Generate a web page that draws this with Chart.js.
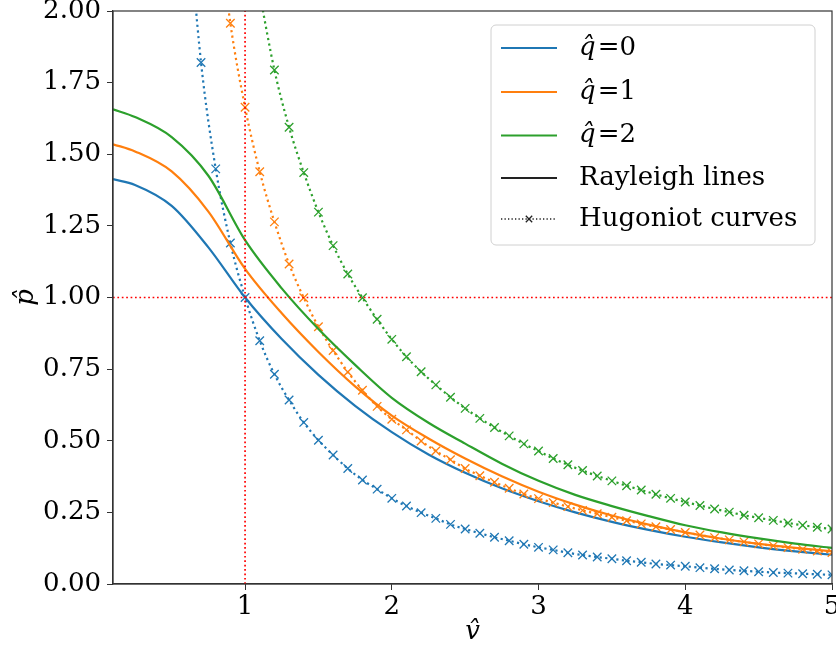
<!DOCTYPE html>
<html>
<head>
<meta charset="utf-8">
<script src="https://cdn.jsdelivr.net/npm/chart.js@4.4.1/dist/chart.umd.min.js"></script>
<style>
  html, body { margin: 0; padding: 0; background: #fff; }
  #wrap { width: 836px; height: 654px; }
</style>
</head>
<body>
<div id="wrap"><canvas id="chart" width="836" height="654"></canvas></div>
<script>
// heat release values and their colours
const qValues = [0, 1, 2];
const qColors = ['#1f77b4', '#ff7f0e', '#2ca02c'];

// Rayleigh lines, sampled along v
const rayleighV = [0.1, 0.25, 0.5, 0.75, 1.0, 1.25, 1.5, 1.75, 2.0, 2.25, 2.5,
  2.75, 3.0, 3.25, 3.5, 3.75, 4.0, 4.25, 4.5, 4.75, 5.0];
const rayleighQ0 = [1.413, 1.393, 1.32, 1.175, 1.0, 0.855, 0.73, 0.622, 0.53, 0.452, 0.388,
  0.334, 0.289, 0.25, 0.217, 0.189, 0.165, 0.145, 0.128, 0.114, 0.102];
const rayleighQ1 = [1.535, 1.51, 1.44, 1.3, 1.1, 0.945, 0.81, 0.69, 0.588, 0.508, 0.438,
  0.376, 0.322, 0.277, 0.239, 0.207, 0.18, 0.158, 0.14, 0.126, 0.114];
const rayleighQ2 = [1.657, 1.63, 1.56, 1.425, 1.2, 1.032, 0.89, 0.765, 0.65, 0.563, 0.49,
  0.42, 0.36, 0.311, 0.272, 0.237, 0.205, 0.18, 0.159, 0.141, 0.126];

// Hugoniot curves, one marker every 0.1 in v (null = not computed there)
const hugoniotV = [0.6, 0.7, 0.8, 0.9, 1.0, 1.1, 1.2, 1.3, 1.4, 1.5, 1.6, 1.7, 1.8, 1.9, 2.0,
  2.1, 2.2, 2.3, 2.4, 2.5, 2.6, 2.7, 2.8, 2.9, 3.0, 3.1, 3.2, 3.3, 3.4, 3.5,
  3.6, 3.7, 3.8, 3.9, 4.0, 4.1, 4.2, 4.3, 4.4, 4.5, 4.6, 4.7, 4.8, 4.9, 5.0];
const hugoniotQ0 = [2.4, 1.82, 1.449, 1.19, 1.0, 0.849, 0.732, 0.642, 0.564, 0.502, 0.45, 0.403, 0.363, 0.331, 0.299,
  0.272, 0.249, 0.229, 0.208, 0.192, 0.177, 0.163, 0.151, 0.139, 0.128, 0.119, 0.109, 0.101, 0.094, 0.088,
  0.081, 0.076, 0.07, 0.066, 0.062, 0.057, 0.053, 0.049, 0.046, 0.043, 0.04, 0.038, 0.036, 0.034, 0.032];
const hugoniotQ1 = [null, null, 2.38, 1.957, 1.664, 1.439, 1.264, 1.117, 0.999, 0.898, 0.815, 0.74, 0.676, 0.62, 0.575,
  0.538, 0.499, 0.464, 0.434, 0.403, 0.378, 0.355, 0.334, 0.314, 0.298, 0.284, 0.27, 0.257, 0.245, 0.233,
  0.221, 0.21, 0.2, 0.19, 0.18, 0.171, 0.162, 0.154, 0.147, 0.14, 0.133, 0.127, 0.121, 0.115, 0.11];
const hugoniotQ2 = [null, null, null, null, null, 2.06, 1.794, 1.594, 1.436, 1.298, 1.181, 1.082, 0.999, 0.924, 0.854,
  0.793, 0.741, 0.695, 0.652, 0.613, 0.578, 0.546, 0.517, 0.489, 0.464, 0.438, 0.416, 0.396, 0.377, 0.36,
  0.343, 0.328, 0.313, 0.299, 0.286, 0.274, 0.262, 0.251, 0.24, 0.231, 0.222, 0.213, 0.205, 0.198, 0.192];

// reference state guides
const refV = 1.0;
const refP = 1.0;

const xTicks = [1, 2, 3, 4, 5];
const legendLabels = ['Rayleigh lines', 'Hugoniot curves'];

const SERIF = "'DejaVu Serif', 'Liberation Serif', serif";

function pairs(xs, ys) {
  return xs.map((x, i) => ({x: x, y: ys[i]}));
}

function rayleighSet(vals, color) {
  return {
    data: pairs(rayleighV, vals),
    borderColor: color,
    borderWidth: 2.2,
    pointRadius: 0,
    cubicInterpolationMode: 'monotone',
    fill: false
  };
}

function hugoniotSet(vals, color) {
  return {
    data: pairs(hugoniotV, vals),
    borderColor: color,
    backgroundColor: color,
    borderWidth: 2.2,
    borderDash: [2.2, 3.4],
    pointStyle: 'crossRot',
    pointRadius: 6,
    pointBorderWidth: 1.3,
    pointBorderColor: color,
    cubicInterpolationMode: 'monotone',
    fill: false
  };
}

function guideSet(points) {
  return {
    data: points,
    borderColor: '#ff0000',
    borderWidth: 1.7,
    borderDash: [1.7, 2.7],
    pointRadius: 0,
    fill: false
  };
}

function noPadding(scale) {
  scale.paddingTop = 0;
  scale.paddingBottom = 0;
  scale.paddingLeft = 0;
  scale.paddingRight = 0;
}

// frame on all four sides and the legend box
const frameAndLegend = {
  id: 'frameAndLegend',
  afterDraw(chart) {
    const ctx = chart.ctx;
    const a = chart.chartArea;
    ctx.save();
    ctx.strokeStyle = '#333';
    ctx.lineWidth = 1.2;
    ctx.strokeRect(a.left, a.top, a.right - a.left, a.bottom - a.top);

    // legend box
    const bx = 491, by = 25, bw = 324, bh = 220, r = 5;
    ctx.beginPath();
    ctx.moveTo(bx + r, by);
    ctx.arcTo(bx + bw, by, bx + bw, by + bh, r);
    ctx.arcTo(bx + bw, by + bh, bx, by + bh, r);
    ctx.arcTo(bx, by + bh, bx, by, r);
    ctx.arcTo(bx, by, bx + bw, by, r);
    ctx.closePath();
    ctx.fillStyle = 'rgba(255,255,255,0.8)';
    ctx.fill();
    ctx.strokeStyle = '#d0d0d0';
    ctx.lineWidth = 1;
    ctx.stroke();

    const rows = [48, 92, 135.5, 178, 219];
    const x0 = 501, x1 = 557, tx = 579;
    ctx.textBaseline = 'middle';
    ctx.fillStyle = '#000';

    qValues.forEach((q, i) => {
      ctx.strokeStyle = qColors[i];
      ctx.lineWidth = 2.2;
      ctx.setLineDash([]);
      ctx.beginPath();
      ctx.moveTo(x0, rows[i]);
      ctx.lineTo(x1, rows[i]);
      ctx.stroke();
      ctx.font = 'italic 26px ' + SERIF;
      const qs = 'q\u0302';
      ctx.fillText(qs, tx, rows[i]);
      const w = ctx.measureText(qs).width;
      ctx.font = '26px ' + SERIF;
      ctx.fillText('=' + q, tx + w + 2, rows[i]);
    });

    ctx.font = '26px ' + SERIF;
    // Rayleigh legend entry
    ctx.strokeStyle = '#222';
    ctx.lineWidth = 2;
    ctx.beginPath();
    ctx.moveTo(x0, rows[3]);
    ctx.lineTo(x1, rows[3]);
    ctx.stroke();
    ctx.fillText(legendLabels[0], tx, rows[3]);

    // Hugoniot legend entry
    ctx.lineWidth = 1.3;
    ctx.setLineDash([1.3, 2.2]);
    ctx.beginPath();
    ctx.moveTo(x0, rows[4]);
    ctx.lineTo(x1, rows[4]);
    ctx.stroke();
    ctx.setLineDash([]);
    const mx = (x0 + x1) / 2, m = 3.2;
    ctx.lineWidth = 1.3;
    ctx.beginPath();
    ctx.moveTo(mx - m, rows[4] - m); ctx.lineTo(mx + m, rows[4] + m);
    ctx.moveTo(mx - m, rows[4] + m); ctx.lineTo(mx + m, rows[4] - m);
    ctx.stroke();
    ctx.fillText(legendLabels[1], tx, rows[4]);
    ctx.restore();
  }
};

const ctx = document.getElementById('chart').getContext('2d');
new Chart(ctx, {
  type: 'line',
  data: {
    datasets: [
      guideSet([{x: 0.1, y: refP}, {x: 5, y: refP}]),
      guideSet([{x: refV, y: 0}, {x: refV, y: 2}]),
      hugoniotSet(hugoniotQ2, qColors[2]),
      rayleighSet(rayleighQ2, qColors[2]),
      hugoniotSet(hugoniotQ1, qColors[1]),
      rayleighSet(rayleighQ1, qColors[1]),
      hugoniotSet(hugoniotQ0, qColors[0]),
      rayleighSet(rayleighQ0, qColors[0])
    ]
  },
  options: {
    responsive: false,
    animation: false,
    devicePixelRatio: 1,
    layout: {
      autoPadding: false,
      padding: {left: 0, right: 4, top: 11, bottom: 0}
    },
    plugins: {
      legend: {display: false},
      tooltip: {enabled: false}
    },
    scales: {
      x: {
        type: 'linear',
        min: 0.1,
        max: 5,
        afterBuildTicks: axis => { axis.ticks = xTicks.map(v => ({value: v})); },
        afterFit: scale => { scale.height = 70; noPadding(scale); },
        ticks: {
          color: '#000',
          font: {family: SERIF, size: 26},
          padding: 2,
          maxRotation: 0,
          callback: v => String(v)
        },
        grid: {display: true, drawOnChartArea: false, drawTicks: true, tickLength: 6, color: '#333'},
        border: {display: true, color: '#333', width: 1.2},
        title: {
          display: true,
          text: 'v\u0302',
          color: '#000',
          font: {family: SERIF, size: 26, style: 'italic'},
          padding: {top: 0, bottom: 6}
        }
      },
      y: {
        min: 0,
        max: 2,
        afterFit: scale => { scale.width = 113; noPadding(scale); },
        ticks: {
          stepSize: 0.25,
          color: '#000',
          font: {family: SERIF, size: 26},
          padding: 6,
          callback: v => v.toFixed(2)
        },
        grid: {display: true, drawOnChartArea: false, drawTicks: true, tickLength: 6, color: '#333'},
        border: {display: true, color: '#333', width: 1.2},
        title: {
          display: true,
          text: 'p\u0302',
          color: '#000',
          font: {family: SERIF, size: 26, style: 'italic'},
          padding: {top: 11, bottom: 0}
        }
      }
    }
  },
  plugins: [frameAndLegend]
});
</script>
</body>
</html>
